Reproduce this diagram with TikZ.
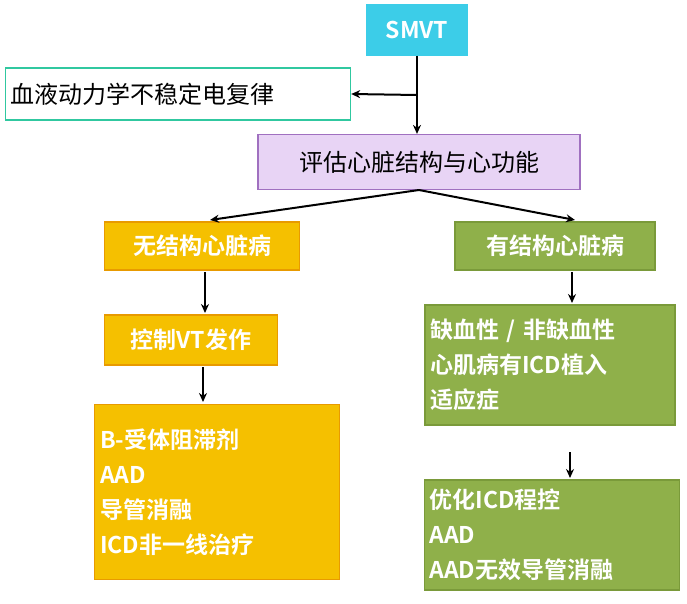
\documentclass[tikz,border=0pt]{standalone}
\usepackage{fontspec}
\setmainfont{Noto Sans CJK SC}[BoldFont={Noto Sans CJK SC Bold}]
\usetikzlibrary{arrows.meta}
\definecolor{gold}{HTML}{F5C000}
\definecolor{goldb}{HTML}{E89A00}
\definecolor{grn}{HTML}{8FB04A}
\definecolor{grnb}{HTML}{7A9A3A}
\definecolor{cyanb}{HTML}{3CCDE8}
\definecolor{lav}{HTML}{E8D4F5}
\definecolor{lavb}{HTML}{A070C0}
\definecolor{teal}{HTML}{30C8A0}
\tikzset{
 box/.style={draw, line width=1.2pt, inner sep=0pt, font=\bfseries\fontsize{23}{35}\selectfont},
 goldbox/.style={box, fill=gold, draw=goldb, text=white},
 grnbox/.style={box, fill=grn, draw=grnb, text=white},
 arr/.style={-{Stealth[length=9pt,width=8pt]}, line width=2pt}
}
\begin{document}
\begin{tikzpicture}[x=1pt,y=-1pt]
\useasboundingbox (0,0) rectangle (687,604);
\node[box, fill=cyanb, draw=cyanb, text=white, minimum width=100, minimum height=50] (smvt) at (417,30) {SMVT};
\node[box, fill=white, draw=teal, text=black, font=\fontsize{24}{30}\selectfont, minimum width=345, minimum height=52, anchor=west, text width=335, align=left] (hemo) at (5,94) {血液动力学不稳定电复律};
\node[box, fill=lav, draw=lavb, text=black, font=\fontsize{24}{30}\selectfont, minimum width=322, minimum height=55] (eval) at (419,162) {评估心脏结构与心功能};
\node[goldbox, minimum width=195, minimum height=48] (nos) at (202,246) {无结构心脏病};
\node[grnbox, minimum width=200, minimum height=48] (yes) at (555,246) {有结构心脏病};
\node[goldbox, minimum width=173, minimum height=50] (ctrl) at (191,340) {控制VT发作};
\node[grnbox, minimum width=250, minimum height=120, text width=240, align=left] (icd) at (550,365) {缺血性 / 非缺血性\\心肌病有ICD植入\\适应症};
\node[goldbox, minimum width=245, minimum height=175, text width=234, align=left] (tx) at (217,492) {B-受体阻滞剂\\AAD\\导管消融\\ICD非一线治疗};
\node[grnbox, minimum width=255, minimum height=110, text width=245, align=left] (opt) at (552,535) {优化ICD程控\\AAD\\AAD无效导管消融};
\coordinate (j) at (417,95);
\draw[arr] (smvt.south) -- (eval.north -| smvt.south);
\draw[arr] (j) -- (hemo.east);
\draw[arr] (419,190) -- (210,220);
\draw[arr] (419,190) -- (575,220);
\draw[arr] (205,272) -- (205,313);
\draw[arr] (572,272) -- (572,303);
\draw[arr] (203,367) -- (203,402);
\draw[arr] (570,452) -- (570,478);
\end{tikzpicture}
\end{document}
